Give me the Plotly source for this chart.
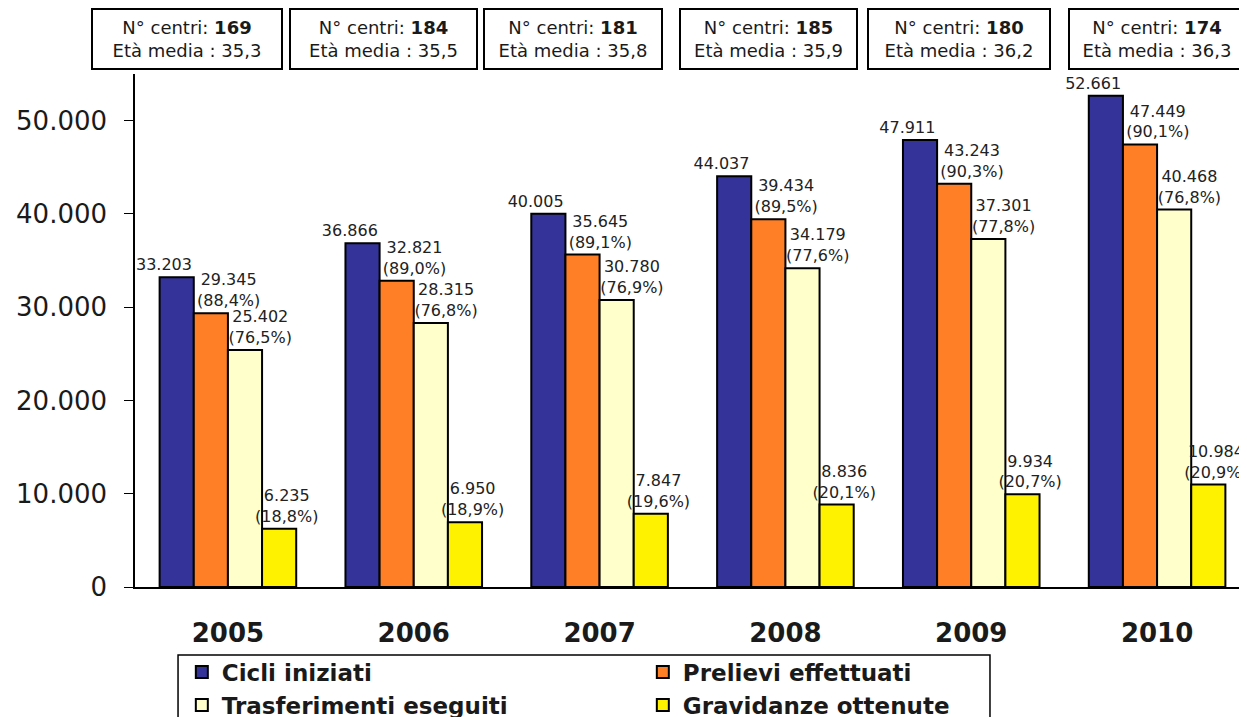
import plotly.graph_objects as go

anni = ["2005", "2006", "2007", "2008", "2009", "2010"]

cicli = [33203, 36866, 40005, 44037, 47911, 52661]
prelievi = [29345, 32821, 35645, 39434, 43243, 47449]
trasferimenti = [25402, 28315, 30780, 34179, 37301, 40468]
gravidanze = [6235, 6950, 7847, 8836, 9934, 10984]

perc_prelievi = ["88,4", "89,0", "89,1", "89,5", "90,3", "90,1"]
perc_trasferimenti = ["76,5", "76,8", "76,9", "77,6", "77,8", "76,8"]
perc_gravidanze = ["18,8", "18,9", "19,6", "20,1", "20,7", "20,9"]

n_centri = [169, 184, 181, 185, 180, 174]
eta_media = ["35,3", "35,5", "35,8", "35,9", "36,2", "36,3"]


def fmt(v):
    return f"{v:,}".replace(",", ".")


def labels(values, perc=None, pad=0):
    sp = "\u00a0" * pad
    if perc is None:
        return [fmt(v) + "\u00a0" * 5 for v in values]
    return [f"{sp}{fmt(v)}<br>{sp}({p}%)" for v, p in zip(values, perc)]


series = [
    ("Cicli iniziati", cicli, "#333399", labels(cicli)),
    ("Prelievi effettuati", prelievi, "#FF7F27", labels(prelievi, perc_prelievi, 7)),
    ("Trasferimenti eseguiti", trasferimenti, "#FFFFCC", labels(trasferimenti, perc_trasferimenti, 6)),
    ("Gravidanze ottenute", gravidanze, "#FFF200", labels(gravidanze, perc_gravidanze, 3)),
]

fig = go.Figure()
for name, vals, color, txt in series:
    fig.add_trace(go.Bar(
        x=anni,
        y=vals,
        name=name,
        marker=dict(color=color, line=dict(color="black", width=2)),
        text=txt,
        textposition="outside",
        textfont=dict(family="DejaVu Sans", size=16, color="#222"),
        cliponaxis=False,
        constraintext="none",
    ))

fig.update_layout(
    width=1247, height=717,
    margin=dict(l=127, r=5, t=66, b=138, autoexpand=False),
    barmode="group",
    bargap=0.265,
    bargroupgap=0,
    plot_bgcolor="white",
    paper_bgcolor="white",
    separators=",.",
    font=dict(family="DejaVu Sans", color="#1a1a1a"),
    showlegend=True,
    legend=dict(
        orientation="h",
        x=0.042, y=-0.124, xanchor="left", yanchor="top",
        entrywidth=416, entrywidthmode="pixels",
        borderwidth=0, bgcolor="rgba(0,0,0,0)",
        font=dict(family="DejaVu Sans", size=23, weight="bold"),
        traceorder="normal",
    ),
)

# cornice della legenda
fig.add_shape(
    type="rect", xref="paper", yref="paper",
    x0=0.0386, x1=0.7668, y0=-0.1326, y1=-0.27,
    line=dict(color="black", width=1.5), fillcolor="white", layer="below",
)

fig.update_yaxes(
    range=[0, 55000],
    tickvals=[0, 10000, 20000, 30000, 40000, 50000],
    tickformat=",d",
    showgrid=False,
    showline=True, linecolor="black", linewidth=1.5,
    ticks="outside", ticklen=9, tickcolor="black",
    tickfont=dict(size=26),
    ticklabelstandoff=12,
    zeroline=False,
    automargin=False,
)
fig.update_xaxes(
    showline=True, linecolor="black", linewidth=1.5,
    ticks="", showgrid=False,
    tickfont=dict(size=26, weight="bold"),
    ticklabelstandoff=22,
    automargin=False,
)

box_x = [0.0466, 0.2233, 0.3928, 0.5686, 0.7390, 0.9166]
box_w = [184, 181, 172, 171, 176, 170]
for i, (c, e) in enumerate(zip(n_centri, eta_media)):
    fig.add_annotation(
        xref="paper", yref="paper",
        x=box_x[i], y=1.068, xanchor="center", yanchor="middle",
        text=f"N° centri: <b>{c}</b><br>Età media : {e}",
        showarrow=False,
        font=dict(family="DejaVu Sans", size=18, color="#1a1a1a"),
        bordercolor="black", borderwidth=2, bgcolor="white",
        width=box_w[i], height=54, borderpad=2,
    )

fig.write_html("out.html")
